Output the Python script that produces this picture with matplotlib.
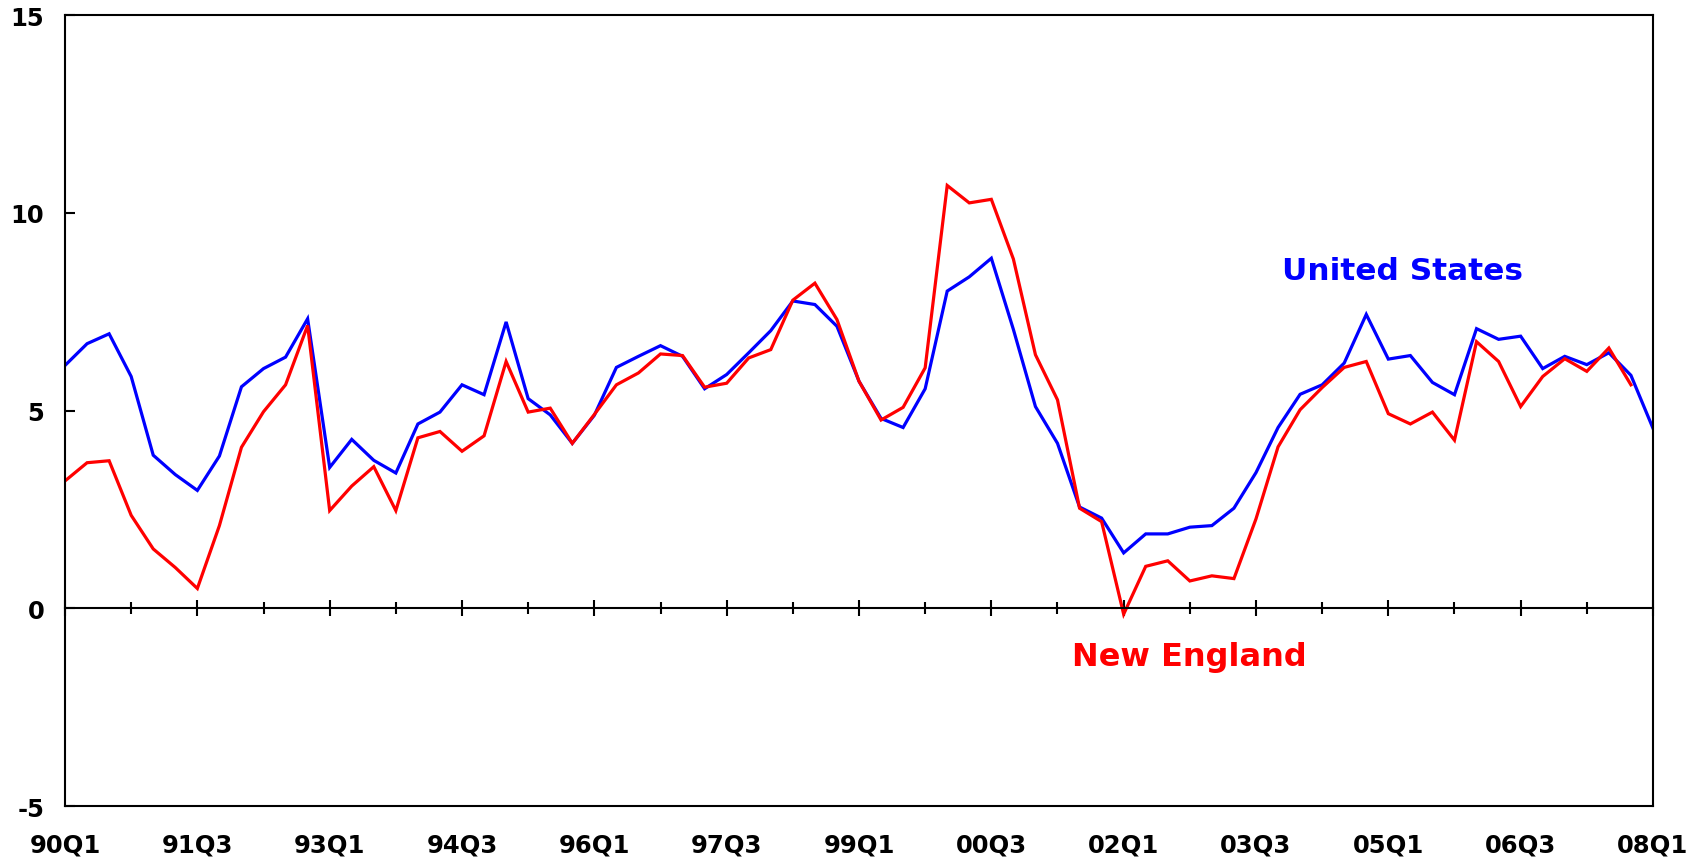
import matplotlib
matplotlib.use("Agg")
import matplotlib.pyplot as plt
import numpy as np

# quarterly values, 90Q1 .. 08Q1
us = [6.14, 6.69, 6.94, 5.86, 3.87, 3.38, 2.98, 3.85, 5.60, 6.06, 6.35, 7.32,
      3.56, 4.27, 3.74, 3.42, 4.66, 4.96, 5.65, 5.40, 7.24, 5.30, 4.89, 4.17,
      4.88, 6.09, 6.37, 6.64, 6.37, 5.55, 5.91, 6.46, 7.02, 7.77, 7.68, 7.13,
      5.74, 4.80, 4.57, 5.55, 8.02, 8.38, 8.85, 7.05, 5.10, 4.17, 2.56, 2.28,
      1.40, 1.88, 1.88, 2.05, 2.09, 2.53, 3.43, 4.57, 5.41, 5.65, 6.20, 7.43,
      6.30, 6.39, 5.71, 5.40, 7.07, 6.80, 6.88, 6.06, 6.37, 6.16, 6.46, 5.89,
      4.55]
new_england = [3.22, 3.68, 3.73, 2.35, 1.50, 1.03, 0.50, 2.09, 4.07, 4.97, 5.65, 7.15,
               2.47, 3.09, 3.58, 2.47, 4.31, 4.47, 3.97, 4.36, 6.24, 4.96, 5.06, 4.17,
               4.90, 5.65, 5.95, 6.43, 6.39, 5.59, 5.69, 6.33, 6.54, 7.79, 8.22, 7.30,
               5.74, 4.76, 5.08, 6.08, 10.69, 10.25, 10.34, 8.83, 6.41, 5.27, 2.53, 2.19,
               -0.15, 1.06, 1.20, 0.69, 0.82, 0.75, 2.26, 4.08, 5.02, 5.58, 6.09, 6.24,
               4.92, 4.66, 4.96, 4.25, 6.74, 6.24, 5.10, 5.86, 6.31, 5.99, 6.58, 5.65]

tick_labels = ['90Q1', '91Q3', '93Q1', '94Q3', '96Q1', '97Q3', '99Q1',
               '00Q3', '02Q1', '03Q3', '05Q1', '06Q3', '08Q1']
y_ticks = [-5, 0, 5, 10, 15]

plt.rcParams['font.family'] = 'DejaVu Sans'
plt.rcParams['font.weight'] = 'bold'
plt.rcParams['axes.unicode_minus'] = False

fig = plt.figure(figsize=(17.02, 8.62), dpi=100)
ax = fig.add_axes([0.0382, 0.0638, 0.9330, 0.9176])

ax.plot(np.arange(len(us)), us, color='#0000FF', lw=2.3, solid_joinstyle='miter')
ax.plot(np.arange(len(new_england)), new_england, color='#FF0000', lw=2.3,
        solid_joinstyle='miter')

n_q = len(us) - 1
ax.set_xlim(0, n_q)
ax.set_ylim(-5, 15)

for s in ax.spines.values():
    s.set_linewidth(1.5)

# zero line carries the tick marks
ax.spines['bottom'].set_position(('data', 0))
ax.set_xticks(np.arange(0, n_q + 1, 6))
ax.set_xticks(np.arange(3, n_q, 6), minor=True)
ax.tick_params(axis='x', which='major', direction='inout', length=12, width=1.5,
               labelbottom=False)
ax.tick_params(axis='x', which='minor', direction='inout', length=9, width=1.5)

# tick labels sit under the frame
sec = ax.secondary_xaxis('bottom')
sec.set_xticks(np.arange(0, n_q + 1, 6), tick_labels)
sec.tick_params(length=0, pad=19, labelsize=17.5, width=1.5)
sec.spines['bottom'].set_linewidth(1.5)
for lab in sec.get_xticklabels():
    lab.set_fontweight('bold')

ax.set_yticks(y_ticks)
ax.tick_params(axis='y', direction='in', length=7, width=1.5, pad=15, labelsize=17.5)
for lab in ax.get_yticklabels():
    lab.set_fontweight('bold')

ax.text(60.66, 8.54, 'United States', color='#0000FF', fontsize=22.5,
        fontweight='bold', ha='center', va='center')
ax.text(50.96, -1.21, 'New England', color='#FF0000', fontsize=23,
        fontweight='bold', ha='center', va='center')

fig.savefig('out.png', dpi=100)
